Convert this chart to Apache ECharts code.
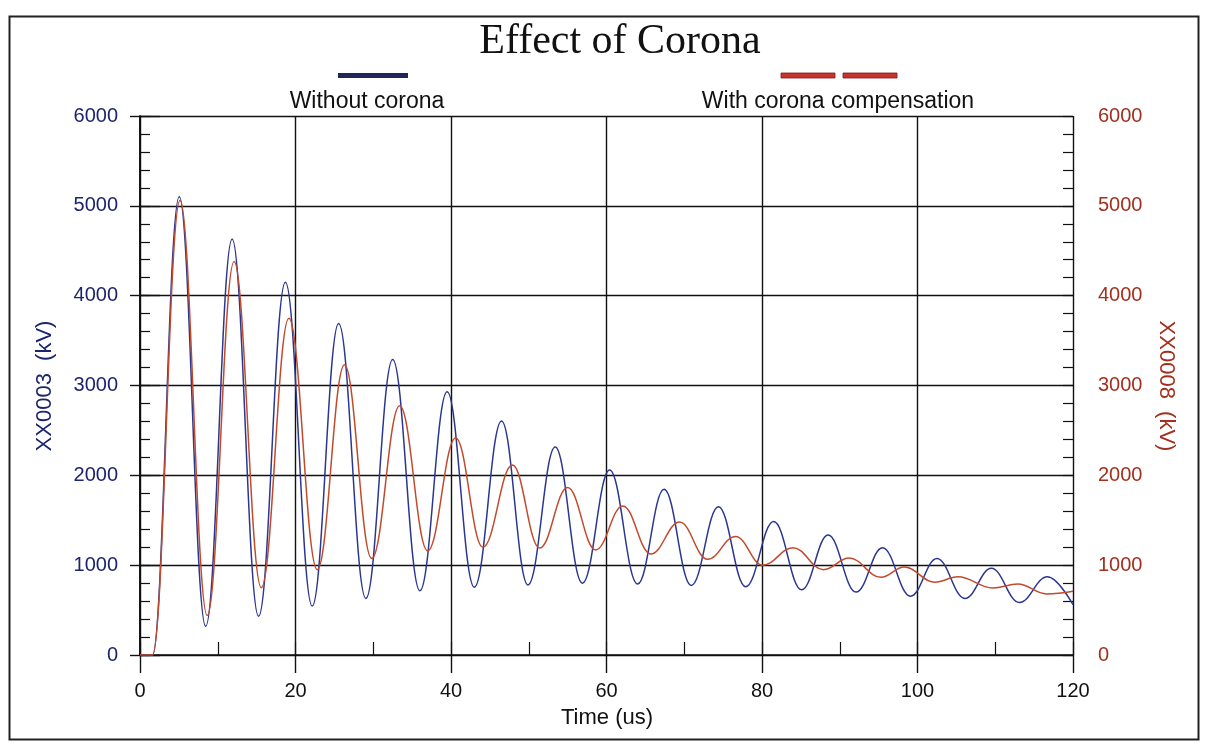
<!DOCTYPE html>
<html>
<head>
<meta charset="utf-8">
<script src="https://cdn.jsdelivr.net/npm/echarts@6/dist/echarts.min.js"></script>
<style>
html,body{margin:0;padding:0;background:#fff;}
#chart{width:1208px;height:743px;}
</style>
</head>
<body>
<div id="chart"></div>
<script>
// ---- data (time in us, voltage in kV) ----
const titleText = 'Effect of Corona';
const seriesNames = ['Without corona', 'With corona compensation'];
const xAxisTitle = 'Time (us)';
const leftAxisTitle = 'XX0003  (kV)';
const rightAxisTitle = 'XX0008  (kV)';

// Without corona (XX0003): start, peaks and troughs
const blueTime = [0, 1.6, 5.05, 8.45, 11.85, 15.25, 18.7, 22.15, 25.55, 29.05, 32.5, 36.0, 39.5, 43.0, 46.5, 49.9, 53.4, 56.9, 60.4, 64.0, 67.4, 70.9, 74.4, 77.9, 81.5, 85.1, 88.5, 92.1, 95.5, 99.1, 102.5, 106.1, 109.5, 113.1, 116.7, 120];
const blueVolt = [0, 0, 5100, 320, 4630, 430, 4150, 545, 3690, 630, 3290, 715, 2930, 755, 2605, 780, 2315, 800, 2060, 790, 1845, 775, 1650, 760, 1485, 725, 1335, 700, 1195, 655, 1075, 630, 965, 585, 870, 560];

// With corona compensation (XX0008): start, peaks and troughs
const redTime = [0, 1.6, 5.15, 8.65, 12.1, 15.6, 19.15, 22.8, 26.3, 29.8, 33.4, 37.0, 40.6, 44.1, 47.9, 51.4, 55.0, 58.6, 62.1, 65.7, 69.4, 73.0, 76.6, 80.1, 84.0, 87.9, 91.2, 95.3, 98.3, 102.2, 105.2, 109.7, 112.9, 116.6, 120];
const redVolt = [0, 0, 5060, 440, 4380, 750, 3750, 950, 3230, 1075, 2775, 1160, 2415, 1200, 2115, 1190, 1865, 1170, 1660, 1125, 1480, 1065, 1320, 1000, 1195, 950, 1080, 865, 980, 810, 870, 745, 790, 680, 710];

const blueData = blueTime.map((t, i) => [t, blueVolt[i]]);
const redData = redTime.map((t, i) => [t, redVolt[i]]);

const BLUE = '#2a3690';
const RED = '#c24a2c';
const NAVY = '#1c2470';
const DARKRED = '#a3301e';
const FONT = '"Liberation Sans", Arial, sans-serif';
const plain = v => String(v);

const chart = echarts.init(document.getElementById('chart'), null, {renderer: 'canvas'});

const yMajor = (pos, color, tickLen, margin) => ({
  type: 'value', position: pos, min: 0, max: 6000, interval: 1000,
  axisLine: {show: true, lineStyle: {color: '#111', width: 1.6}},
  axisTick: {show: true, inside: false, length: tickLen, lineStyle: {color: '#111', width: 1.4}},
  axisLabel: {show: true, color: color, fontSize: 20, fontFamily: FONT, margin: margin, formatter: plain},
  splitLine: {show: pos === 'left', lineStyle: {color: '#111', width: 1.4}}
});
const yMinor = (pos) => ({
  type: 'value', position: pos, min: 0, max: 6000, interval: 200,
  axisLine: {show: false},
  axisTick: {show: true, inside: true, length: 10, lineStyle: {color: '#111', width: 1.2}},
  axisLabel: {show: false},
  splitLine: {show: false}
});

chart.setOption({
  animation: false,
  backgroundColor: '#fff',
  grid: {left: 140, right: 135, top: 116, bottom: 88, outerBoundsMode: 'none', containLabel: false},
  xAxis: [
    {
      type: 'value', position: 'bottom', min: 0, max: 120, interval: 20,
      axisLine: {show: true, lineStyle: {color: '#111', width: 1.6}},
      axisTick: {show: true, inside: false, length: 18, lineStyle: {color: '#111', width: 1.4}},
      axisLabel: {show: true, color: '#111', fontSize: 20, fontFamily: FONT, margin: 26, formatter: plain},
      splitLine: {show: true, lineStyle: {color: '#111', width: 1.4}}
    },
    {
      type: 'value', position: 'bottom', min: 0, max: 120, interval: 10,
      axisLine: {show: false},
      axisTick: {show: true, inside: true, length: 13, lineStyle: {color: '#111', width: 1.2}},
      axisLabel: {show: false},
      splitLine: {show: false}
    }
  ],
  yAxis: [
    yMajor('left', NAVY, 10, 22),
    yMajor('right', DARKRED, 20, 25),
    yMinor('left'),
    yMinor('right')
  ],
  series: [
    {
      name: seriesNames[0], type: 'line', xAxisIndex: 0, yAxisIndex: 0,
      data: blueData, showSymbol: false, symbol: 'none',
      smooth: 0.4, smoothMonotone: 'x',
      lineStyle: {color: BLUE, width: 1.5}, z: 3
    },
    {
      name: seriesNames[1], type: 'line', xAxisIndex: 0, yAxisIndex: 1,
      data: redData, showSymbol: false, symbol: 'none',
      smooth: 0.4, smoothMonotone: 'x',
      lineStyle: {color: RED, width: 1.5}, z: 4
    }
  ],
  graphic: [
    {type: 'rect', shape: {x: 9.5, y: 16.5, width: 1189, height: 723}, style: {fill: 'none', stroke: '#222', lineWidth: 2}, silent: true, z: 0},
    {type: 'text', x: 620, y: 42, style: {text: titleText, font: '42px "Liberation Serif", "Times New Roman", serif', fill: '#111', align: 'center', verticalAlign: 'middle'}},
    {type: 'rect', shape: {x: 338, y: 73, width: 70, height: 5}, style: {fill: '#1e2758'}},
    {type: 'text', x: 367, y: 102, style: {text: seriesNames[0], font: '23px ' + FONT, fill: '#111', align: 'center', verticalAlign: 'middle'}},
    {type: 'rect', shape: {x: 781, y: 73, width: 54, height: 5}, style: {fill: '#c8332b', stroke: '#7a1a14', lineWidth: 0.8}},
    {type: 'rect', shape: {x: 843, y: 73, width: 54, height: 5}, style: {fill: '#c8332b', stroke: '#7a1a14', lineWidth: 0.8}},
    {type: 'text', x: 838, y: 102, style: {text: seriesNames[1], font: '23px ' + FONT, fill: '#111', align: 'center', verticalAlign: 'middle'}},
    {type: 'text', x: 607, y: 718, style: {text: xAxisTitle, font: '22px ' + FONT, fill: '#111', align: 'center', verticalAlign: 'middle'}},
    {type: 'text', x: 45, y: 386, rotation: Math.PI / 2, style: {text: leftAxisTitle, font: '22px ' + FONT, fill: NAVY, align: 'center', verticalAlign: 'middle'}},
    {type: 'text', x: 1166, y: 386, rotation: -Math.PI / 2, style: {text: rightAxisTitle, font: '22px ' + FONT, fill: DARKRED, align: 'center', verticalAlign: 'middle'}}
  ]
});
</script>
</body>
</html>
